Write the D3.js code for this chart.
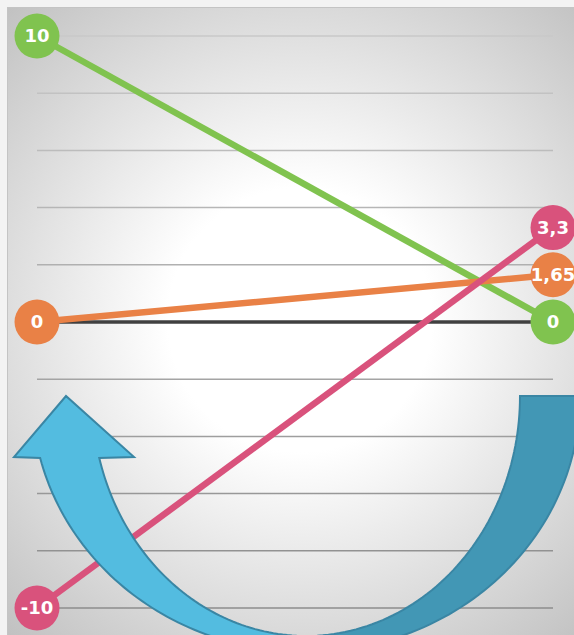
<!DOCTYPE html>
<html>
<head>
<meta charset="utf-8">
<script src="https://cdn.jsdelivr.net/npm/d3@7"></script>
<style>
  html, body { margin: 0; padding: 0; background: #f3f3f3; }
  svg { display: block; }
</style>
</head>
<body>
<script>
const categories = ["Start", "End"];
const seriesNames = ["Green", "Orange", "Pink"];
const greenValues = [10, 0];
const orangeValues = [0, 1.65];
const pinkValues = [-10, 3.3];
const gridTicks = [10, 8, 6, 4, 2, 0, -2, -4, -6, -8, -10];

const width = 574, height = 635;
const svg = d3.select("body").append("svg")
    .attr("width", width)
    .attr("height", height);

const defs = svg.append("defs");
const bg = defs.append("radialGradient")
    .attr("id", "bg")
    .attr("gradientUnits", "userSpaceOnUse")
    .attr("cx", 300).attr("cy", 320).attr("r", 440);
bg.append("stop").attr("offset", 0).attr("stop-color", "#ffffff");
bg.append("stop").attr("offset", 0.3).attr("stop-color", "#ffffff");
bg.append("stop").attr("offset", 1).attr("stop-color", "#bfbfbf");

// Plot background
svg.append("rect")
    .attr("x", 7.5).attr("y", 7.5)
    .attr("width", width).attr("height", height)
    .attr("fill", "url(#bg)")
    .attr("stroke", "#c4c4c4");

const x = d3.scalePoint().domain(categories).range([37, 553]);
const y = d3.scaleLinear().domain([-10, 10]).range([608, 36]);
const gridColor = d3.scaleLinear().domain([10, -10]).range(["#c8c8c8", "#8c8c8c"]);

// Gridlines
svg.append("g")
    .selectAll("line")
    .data(gridTicks.filter((d) => d !== 0))
    .join("line")
    .attr("x1", x.range()[0]).attr("x2", x.range()[1])
    .attr("y1", (d) => y(d)).attr("y2", (d) => y(d))
    .attr("stroke", (d) => gridColor(d))
    .attr("stroke-width", 1.5);

// Zero line
svg.append("line")
    .attr("x1", x.range()[0]).attr("x2", x.range()[1])
    .attr("y1", y(0)).attr("y2", y(0))
    .attr("stroke", "#404040")
    .attr("stroke-width", 3.5);

const series = [
    { name: seriesNames[0], values: greenValues, color: "#80c34f" },
    { name: seriesNames[1], values: orangeValues, color: "#e98146" },
    { name: seriesNames[2], values: pinkValues, color: "#d9527c" },
];

const line = d3.line()
    .x((d, i) => x(categories[i]))
    .y((d) => y(d));

svg.append("g")
    .selectAll("path")
    .data(series)
    .join("path")
    .attr("d", (d) => line(d.values))
    .attr("fill", "none")
    .attr("stroke", (d) => d.color)
    .attr("stroke-width", 6.5);

const fmt = (v) => String(v).replace(".", ",");

const points = series.flatMap((s) =>
    s.values.map((v, i) => ({ v, cat: categories[i], color: s.color })));

const dots = svg.append("g")
    .selectAll("g")
    .data(points)
    .join("g")
    .attr("transform", (d) => `translate(${x(d.cat)},${y(d.v)})`);

dots.append("circle")
    .attr("r", 22.5)
    .attr("fill", (d) => d.color);

dots.append("text")
    .attr("text-anchor", "middle")
    .attr("dy", "0.36em")
    .attr("fill", "#ffffff")
    .attr("font-family", "'DejaVu Sans', sans-serif")
    .attr("font-weight", 700)
    .attr("font-size", 18)
    .text((d) => fmt(d.v));

// Decorative curved arrow
const arc = { cx: 306, cy: 396, rxIn: 214, ryIn: 240, rxOut: 274, ryOut: 256 };
const ell = (rx, ry, t) => [arc.cx + rx * Math.cos(t), arc.cy + ry * Math.sin(t)];
const sample = (rx, ry, t0, t1, n = 60) =>
    d3.range(n + 1).map((i) => ell(rx, ry, t0 + (t1 - t0) * i / n));

const tIn = Math.PI - Math.asin(62 / arc.ryIn);
const tOut = Math.PI - Math.asin(62 / arc.ryOut);

const leftPts = [
    ...sample(arc.rxOut, arc.ryOut, Math.PI / 2, tOut),
    [14, 457], [66, 396], [134, 457],
    ...sample(arc.rxIn, arc.ryIn, tIn, Math.PI / 2),
];
const rightPts = [
    ...sample(arc.rxOut, arc.ryOut, 0, Math.PI / 2),
    ...sample(arc.rxIn, arc.ryIn, Math.PI / 2, 0),
];

const arrow = svg.append("g")
    .attr("stroke", "#3a86a4")
    .attr("stroke-width", 2)
    .attr("stroke-linejoin", "miter");

arrow.append("path")
    .attr("d", d3.line()(rightPts) + "Z")
    .attr("fill", "#4297b5");

arrow.append("path")
    .attr("d", d3.line()(leftPts) + "Z")
    .attr("fill", "#53bce0");
</script>
</body>
</html>
